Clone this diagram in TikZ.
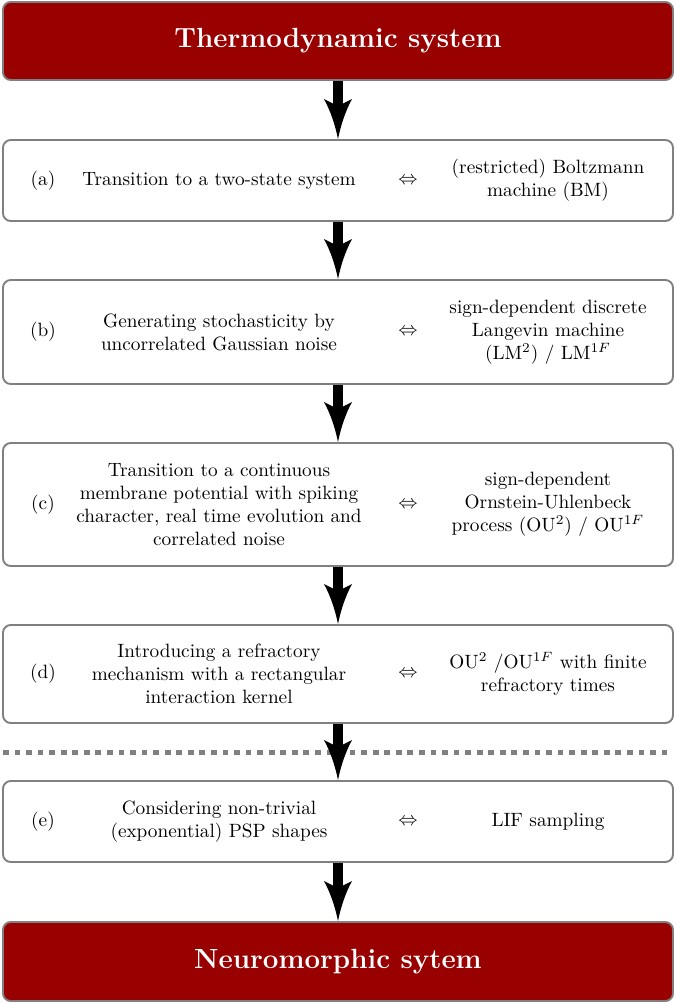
\documentclass[tikz,border=0pt]{standalone}
\usetikzlibrary{arrows.meta}
\definecolor{boxred}{HTML}{990000}
\definecolor{boxgray}{HTML}{808080}
\pgfdeclarearrow{
  name=ConcaveTip,
  setup code={
    \pgfarrowssettipend{0pt}
    \pgfarrowssetlineend{-17pt}
    \pgfarrowssetbackend{-20.8pt}
    \pgfarrowshullpoint{0pt}{0pt}
    \pgfarrowsupperhullpoint{-20.8pt}{7.3pt}
  },
  drawing code={
    \pgfpathmoveto{\pgfqpoint{0pt}{0pt}}
    \pgfpathcurveto{\pgfqpoint{-6pt}{1.2pt}}{\pgfqpoint{-14pt}{3.5pt}}{\pgfqpoint{-20.8pt}{7.3pt}}
    \pgfpathlineto{\pgfqpoint{-18.4pt}{2.6pt}}
    \pgfpathlineto{\pgfqpoint{-18.4pt}{-2.6pt}}
    \pgfpathlineto{\pgfqpoint{-20.8pt}{-7.3pt}}
    \pgfpathcurveto{\pgfqpoint{-14pt}{-3.5pt}}{\pgfqpoint{-6pt}{-1.2pt}}{\pgfqpoint{0pt}{0pt}}
    \pgfpathclose
    \pgfusepathqfill
  },
}
\begin{document}
\begin{tikzpicture}[x=0.5192pt,y=-0.5192pt,
  stagebox/.style={draw=boxgray, line width=1pt, rounded corners=4pt,
    minimum width=670*0.5192pt, inner sep=0pt, fill=white},
  endbox/.style={stagebox, fill=boxred, text=white, font=\Large\bfseries},
  flow/.style={line width=5.2pt, -{ConcaveTip}},
  lbl/.style={align=center, inner sep=0pt},
  sepline/.style={draw=boxgray, line width=2.6pt, dash pattern=on 3pt off 3pt}]
\useasboundingbox (0,0) rectangle (676,1003);

% boxes
\node[endbox, minimum height=78*0.5192pt] (top) at (338,41) {Thermodynamic system};
\node[stagebox, minimum height=81*0.5192pt] (a) at (338,180.5) {};
\node[stagebox, minimum height=104*0.5192pt] (b) at (338,332) {};
\node[stagebox, minimum height=123*0.5192pt] (c) at (338,504.5) {};
\node[stagebox, minimum height=98*0.5192pt] (d) at (338,674) {};
\node[stagebox, minimum height=81*0.5192pt] (e) at (338,821.5) {};
\node[endbox, minimum height=79*0.5192pt] (bot) at (338,961.5) {Neuromorphic sytem};

% (a)
\node[lbl] (alab) at (43,180.5) {(a)};
\node[lbl] (aleft) at (219,180.5) {Transition to a two-state system};
\node[lbl] (aeq) at (408,180.5) {$\Leftrightarrow$};
\node[lbl] (aright) at (548,180.5) {(restricted) Boltzmann\\machine (BM)};

% (b)
\node[lbl] (blab) at (43,332) {(b)};
\node[lbl] (bleft) at (219,332) {Generating stochasticity by\\uncorrelated Gaussian noise};
\node[lbl] (beq) at (408,332) {$\Leftrightarrow$};
\node[lbl] (bright) at (548,332) {sign-dependent discrete\\Langevin machine\\(LM$^2$) / LM$^{1F}$};

% (c)
\node[lbl] (clab) at (43,504.5) {(c)};
\node[lbl] (cleft) at (219,504.5) {Transition to a continuous\\membrane potential with spiking\\character, real time evolution and\\correlated noise};
\node[lbl] (ceq) at (408,504.5) {$\Leftrightarrow$};
\node[lbl] (cright) at (548,504.5) {sign-dependent\\Ornstein-Uhlenbeck\\process (OU$^2$) / OU$^{1F}$};

% (d)
\node[lbl] (dlab) at (43,674) {(d)};
\node[lbl] (dleft) at (219,674) {Introducing a refractory\\mechanism with a rectangular\\interaction kernel};
\node[lbl] (deq) at (408,674) {$\Leftrightarrow$};
\node[lbl] (dright) at (548,674) {OU$^2$ /OU$^{1F}$ with finite\\refractory times};

% (e)
\node[lbl] (elab) at (43,821.5) {(e)};
\node[lbl] (eleft) at (219,821.5) {Considering non-trivial\\(exponential) PSP shapes};
\node[lbl] (eeq) at (408,821.5) {$\Leftrightarrow$};
\node[lbl] (eright) at (548,821.5) {LIF sampling};

% separator
\coordinate (sepL) at (3,752);
\coordinate (sepR) at (673,752);
\draw[sepline] (sepL) -- (sepR);

% arrows
\draw[flow] (top.south) -- (a.north);
\draw[flow] (a.south) -- (b.north);
\draw[flow] (b.south) -- (c.north);
\draw[flow] (c.south) -- (d.north);
\draw[flow] (d.south) -- (e.north);
\draw[flow] (e.south) -- (bot.north);
\end{tikzpicture}
\end{document}
